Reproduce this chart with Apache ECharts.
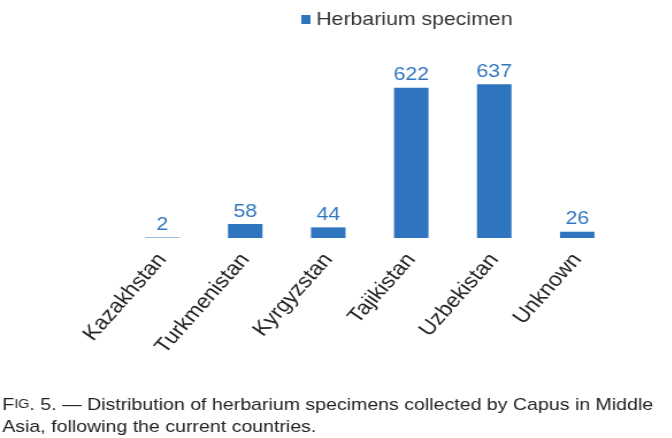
<!DOCTYPE html>
<html>
<head>
<meta charset="utf-8">
<script src="https://cdn.jsdelivr.net/npm/echarts@6/dist/echarts.min.js"></script>
<style>
html,body{margin:0;padding:0;background:#fff;overflow:hidden;}
/* the figure is a little wider than tall in the original, so stretch it */
#chartID{width:584px;height:438px;transform:scaleX(1.15);transform-origin:0 0;}
</style>
</head>
<body>
<div id="chartID"></div>
<script>
// specimens per country
var countryArray=["Kazakhstan", "Turkmenistan", "Kyrgyzstan", "Tajikistan", "Uzbekistan", "Unknown"];
var specimenArray=[2, 58, 44, 622, 637, 26];
var seriesName="Herbarium specimen";

var chart=echarts.init(document.getElementById('chartID'));
var option={
	animation:false,
	textStyle:{fontFamily:'Liberation Sans, Arial, sans-serif'},
	legend:{
		data:[seriesName],
		left:257,
		top:5,
		icon:'rect',
		itemWidth:8,
		itemHeight:9,
		itemGap:7,
		textStyle:{fontSize:18.5,color:'#333'}
	},
	grid:{left:105,right:46,top:69,bottom:200},
	xAxis:{
		type:'category',
		data:countryArray,
		axisLine:{show:false},
		axisTick:{show:false},
		axisLabel:{rotate:52,fontSize:20,color:'#222',margin:18,interval:0}
	},
	yAxis:{
		type:'value',
		min:0,
		max:700,
		show:false
	},
	series:[
		{
			name:seriesName,
			type:'bar',
			barWidth:30,
			data:specimenArray,
			itemStyle:{color:'#2E74BF'},
			label:{show:true,position:'top',fontSize:18.5,color:'#3276C0',distance:3}
		}
	],
	graphic:[
		{
			type:'text',
			left:2,
			top:394,
			style:{
				rich:{
					a:{fontSize:17,fill:'#222',fontFamily:'Liberation Sans, Arial, sans-serif'},
					s:{fontSize:12.5,fill:'#222',fontFamily:'Liberation Sans, Arial, sans-serif'}
				},
				text:'{a|F}{s|IG}{a|. 5. — Distribution of herbarium specimens collected by Capus in Middle}\n{a|Asia, following the current countries.}',
				lineHeight:22
			}
		}
	]
};
chart.setOption(option);
</script>
</body>
</html>
